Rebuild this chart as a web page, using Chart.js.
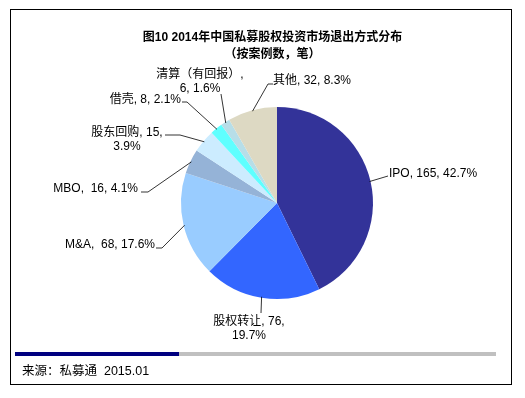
<!DOCTYPE html>
<html>
<head>
<meta charset="utf-8">
<script src="https://cdn.jsdelivr.net/npm/chart.js@4"></script>
<style>
html,body{margin:0;padding:0;background:#fff;}
#wrap{position:relative;width:525px;height:398px;overflow:hidden;background:#fff;}
#frame{position:absolute;left:10px;top:9px;width:500px;height:374px;border:1px solid #000;box-sizing:content-box;}
#c{position:absolute;left:0;top:0;}
.title{position:absolute;left:0;width:545px;text-align:center;font:bold 12px "Liberation Sans","Noto Sans CJK SC",sans-serif;color:#000;white-space:nowrap;}
#bar1{position:absolute;left:15px;top:352px;width:164px;height:4px;background:#000080;}
#bar2{position:absolute;left:179px;top:352px;width:317px;height:4px;background:#C0C0C0;}
#src{position:absolute;left:22px;top:360px;font:12.5px "Liberation Sans","Noto Sans CJK SC",sans-serif;color:#000;white-space:nowrap;}
</style>
</head>
<body>
<div id="wrap">
  <div id="frame"></div>
  <canvas id="c" width="525" height="398"></canvas>
  <div class="title" style="top:27px">图10 2014年中国私募股权投资市场退出方式分布</div>
  <div class="title" style="top:44px">（按案例数，笔）</div>
  <div id="bar1"></div><div id="bar2"></div>
  <div id="src">来源：私募通&nbsp; 2015.01</div>
</div>
<script>
// ---- data ----
const categories = ['IPO', '股权转让', 'M&A', 'MBO', '股东回购', '借壳', '清算（有回报）', '其他'];
const counts = [165, 76, 68, 16, 15, 8, 6, 32];
const colors = ['#333399', '#3366FF', '#99CCFF', '#95B3D7', '#CCECFF', '#5FFFFF', '#B7DEE8', '#DDD9C3'];

// ---- label layout (positions only) ----
// split: number of comma-parts on the first line (rest on second line)
const labelLayout = [
  {align:'left',   x:389, y:174, split:3, sep:', ',  leader:[[388,176]]},
  {align:'center', x:249, y:322, split:2, sep:', ',  leader:[[261,313]]},
  {align:'right',  x:155, y:245, split:3, sep:',  ', leader:[[162,248],[156,248]]},
  {align:'right',  x:138, y:189, split:3, sep:',  ', leader:[[148,192],[141,192]]},
  {align:'center', x:127, y:133, split:2, sep:', ',  leader:[[180,135],[165,135]]},
  {align:'right',  x:181, y:100, split:3, sep:', ',  leader:[[187,102],[182,102]]},
  {align:'center', x:200, y:75,  split:1, sep:', ',  leader:[[221,94]]},
  {align:'left',   x:273, y:81,  split:3, sep:', ',  leader:[[268,84],[273,84]]}
];

const total = counts.reduce((a,b)=>a+b,0);

const labelPlugin = {
  id: 'pieLabels',
  afterDatasetsDraw(chart) {
    const ctx = chart.ctx;
    const meta = chart.getDatasetMeta(0);
    ctx.save();
    ctx.font = '12px "Liberation Sans","Noto Sans CJK SC",sans-serif';
    ctx.fillStyle = '#000';
    ctx.strokeStyle = '#000';
    ctx.lineWidth = 0.8;
    meta.data.forEach((arc, i) => {
      const p = arc.getProps(['x','y','startAngle','endAngle','outerRadius'], true);
      const mid = (p.startAngle + p.endAngle) / 2;
      const r = p.outerRadius - 1;
      const sx = p.x + Math.cos(mid) * r;
      const sy = p.y + Math.sin(mid) * r;
      const L = labelLayout[i];
      ctx.beginPath();
      ctx.moveTo(sx, sy);
      L.leader.forEach(pt => ctx.lineTo(pt[0], pt[1]));
      ctx.stroke();
      const pct = (counts[i] / total * 100).toFixed(1) + '%';
      const parts = [categories[i], String(counts[i]), pct];
      ctx.textAlign = L.align;
      ctx.textBaseline = 'middle';
      if (L.split >= 3) {
        ctx.fillText(parts[0] + L.sep + parts[1] + ', ' + parts[2], L.x, L.y);
      } else {
        ctx.fillText(parts.slice(0, L.split).join(', ') + ',', L.x, L.y);
        ctx.fillText(parts.slice(L.split).join(', '), L.x, L.y + 14);
      }
    });
    ctx.restore();
  }
};

new Chart(document.getElementById('c'), {
  type: 'pie',
  data: {
    labels: categories,
    datasets: [{
      data: counts,
      backgroundColor: colors,
      borderWidth: 0
    }]
  },
  options: {
    responsive: false,
    animation: false,
    layout: { padding: { left: 181, right: 152, top: 107, bottom: 99 } },
    plugins: { legend: { display: false }, tooltip: { enabled: false }, title: { display: false } }
  },
  plugins: [labelPlugin]
});
</script>
</body>
</html>
